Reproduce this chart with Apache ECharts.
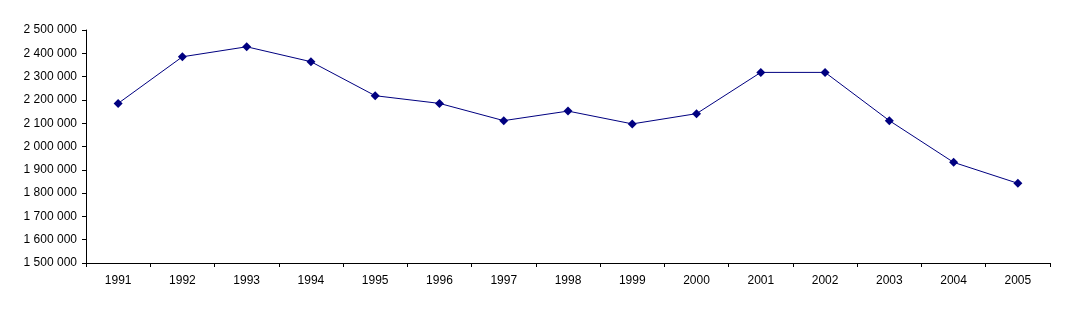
<!DOCTYPE html>
<html>
<head>
<meta charset="utf-8">
<script src="https://cdn.jsdelivr.net/npm/echarts@6/dist/echarts.min.js"></script>
<style>html,body{margin:0;padding:0;background:#fff}#c{width:1068px;height:311px}</style>
</head>
<body>
<div id="c"></div>
<script>
const years = ['1991','1992','1993','1994','1995','1996','1997','1998','1999','2000','2001','2002','2003','2004','2005'];
const values = [2185000,2385000,2428000,2364000,2218000,2185000,2111000,2152000,2097000,2141000,2318000,2318000,2111000,1932000,1842000];
const yMin = 1500000, yMax = 2500000, yStep = 100000;

function fmt(v){ return String(v).replace(/\B(?=(\d{3})+(?!\d))/g,' '); }

const chart = echarts.init(document.getElementById('c'), null, {renderer:'canvas'});
chart.setOption({
  animation:false,
  backgroundColor:'#fff',
  grid:{left:86,right:18,top:30,bottom:48,containLabel:false},
  xAxis:{
    type:'category', data:years, boundaryGap:true,
    axisLine:{lineStyle:{color:'#000',width:1}},
    axisTick:{show:true,alignWithLabel:false,length:4,lineStyle:{color:'#000'}},
    axisLabel:{color:'#000',fontFamily:'Liberation Sans, Arial',fontSize:12,margin:12},
    splitLine:{show:false}
  },
  yAxis:{
    type:'value', min:yMin, max:yMax, interval:yStep,
    axisLine:{show:true,lineStyle:{color:'#000',width:1}},
    axisTick:{show:true,length:4,lineStyle:{color:'#000'}},
    axisLabel:{color:'#000',fontFamily:'Liberation Sans, Arial',fontSize:12,margin:9,formatter:fmt},
    splitLine:{show:false}
  },
  series:[{
    type:'line', data:values,
    symbol:'diamond', symbolSize:9,
    lineStyle:{color:'#000080',width:1},
    itemStyle:{color:'#000080'}
  }]
});
</script>
</body>
</html>
